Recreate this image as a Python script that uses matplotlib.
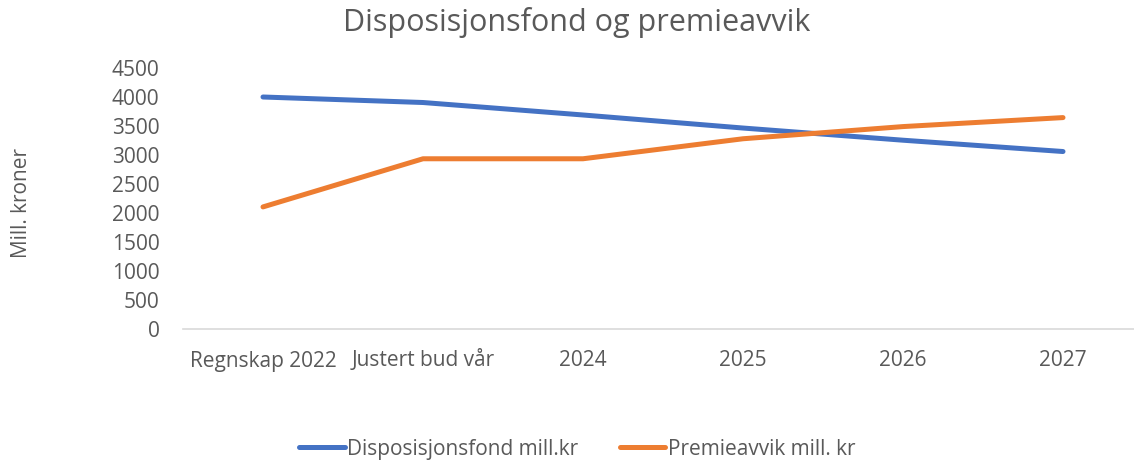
import matplotlib
matplotlib.use("Agg")
import matplotlib.pyplot as plt

categories = ["Regnskap 2022", "Justert bud vår", "2024", "2025", "2026", "2027"]
disposisjonsfond = [4000, 3905, 3690, 3465, 3255, 3060]
premieavvik = [2105, 2935, 2935, 3280, 3490, 3645]
yticks = [0, 500, 1000, 1500, 2000, 2500, 3000, 3500, 4000, 4500]

plt.rcParams['font.family'] = ['Open Sans', 'DejaVu Sans']
txt = '#595959'
fs = 15

fig = plt.figure(figsize=(11.34, 4.61), dpi=100)
ax = fig.add_axes([183/1134, 1 - 329/461, 960/1134, (329 - 68)/461])
x = list(range(len(categories)))
ax.plot(x, disposisjonsfond, color='#4472C4', lw=3.6, solid_capstyle='round', label='Disposisjonsfond mill.kr')
ax.plot(x, premieavvik, color='#ED7D31', lw=3.6, solid_capstyle='round', label='Premieavvik mill. kr')
ax.set_xlim(-0.5, len(categories) - 0.5)
ax.set_ylim(0, 4500)
ax.set_yticks(yticks)
ax.set_xticks(x)
ax.set_xticklabels(categories)
for s in ['top', 'right', 'left']:
    ax.spines[s].set_visible(False)
ax.spines['bottom'].set_color('#d9d9d9')
ax.spines['bottom'].set_linewidth(1.2)
ax.tick_params(axis='both', length=0, colors=txt, labelsize=fs)
ax.tick_params(axis='x', pad=27)
ax.tick_params(axis='y', pad=17)
for lab in ax.get_xticklabels():
    lab.set_va('baseline')
fig.text(22/1134, 1 - 203/461, 'Mill. kroner', rotation=90, ha='center', va='center', color=txt, fontsize=fs)
fig.text(577/1134, 1 - 22/461, 'Disposisjonsfond og premieavvik', ha='center', va='center', color=txt, fontsize=22)
leg = fig.legend(loc='center', bbox_to_anchor=(577/1134, 1 - 449/461), ncol=2, frameon=False,
                 fontsize=fs, labelcolor=txt, handlelength=2.2, columnspacing=2.0, handletextpad=0.1)
fig.savefig('out.png', dpi=100)
